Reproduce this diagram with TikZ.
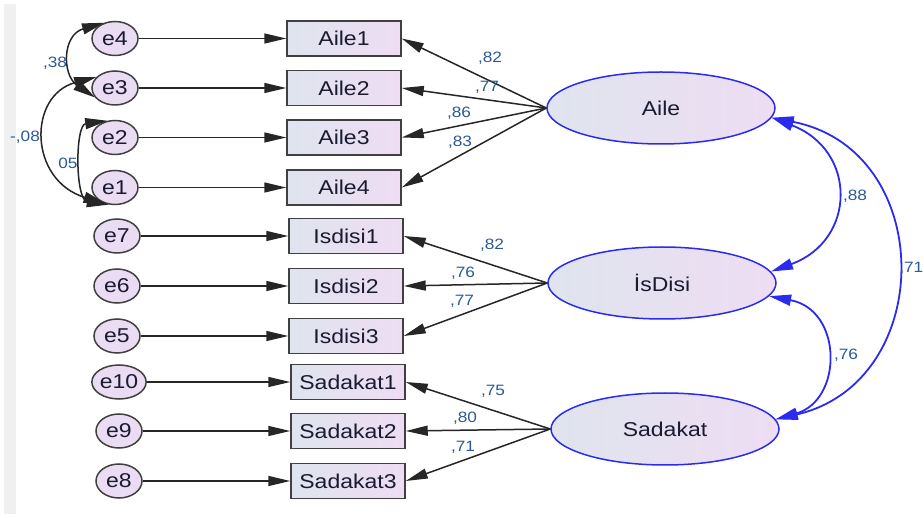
\documentclass[tikz,border=0pt]{standalone}
\usepackage{fontspec}
\setmainfont{Liberation Sans}[FakeStretch=1.15]
\usetikzlibrary{arrows.meta,shapes.geometric}
\definecolor{boxl}{HTML}{DFE4EE}
\definecolor{boxr}{HTML}{EEDDF3}
\definecolor{errfill}{HTML}{EADCF2}
\definecolor{latblue}{HTML}{2B2BF0}
\definecolor{numcol}{HTML}{2A5A96}
\definecolor{txtcol}{HTML}{1A1A30}
\begin{document}
\begin{tikzpicture}
[x=1pt, y=1pt, line width=1.5pt, font=\fontsize{20}{23}\selectfont,
obs/.style={rectangle, draw=black!75, left color=boxl, right color=boxr, inner sep=0pt, minimum width=114pt, minimum height=35pt, text=txtcol},
err/.style={ellipse, draw=black!75, fill=errfill, inner sep=0pt, minimum width=46pt, minimum height=34pt, text=txtcol},
lat/.style={ellipse, draw=latblue, left color=boxl, right color=boxr, inner sep=0pt, minimum width=228pt, minimum height=72pt, text=txtcol},
load/.style={-{Triangle[length=22pt,width=10pt]}, black!85},
cov/.style={{Triangle[length=22pt,width=11pt]}-{Triangle[length=22pt,width=11pt]}, black!85},
lcov/.style={{Triangle[length=22pt,width=11pt]}-{Triangle[length=22pt,width=11pt]}, latblue, line width=1.8pt},
num/.style={font=\fontsize{15}{18}\selectfont, text=numcol, inner sep=0pt}]

\useasboundingbox (0,0) rectangle (924,-518);
\fill[black!6] (4,-4) rectangle (16,-514);

% indicators
\node[obs] (aile1) at (344,-38.5) {Aile1};
\node[obs] (aile2) at (344,-88) {Aile2};
\node[obs] (aile3) at (344,-137.5) {Aile3};
\node[obs] (aile4) at (344,-187.5) {Aile4};
\node[obs] (isdisi1) at (346,-236) {Isdisi1};
\node[obs] (isdisi2) at (346,-286) {Isdisi2};
\node[obs] (isdisi3) at (346,-336) {Isdisi3};
\node[obs] (sadakat1) at (348,-382) {Sadakat1};
\node[obs] (sadakat2) at (348,-431) {Sadakat2};
\node[obs] (sadakat3) at (348,-481) {Sadakat3};

% errors
\node[err] (e4) at (115,-38.5) {e4};
\node[err] (e3) at (115,-88) {e3};
\node[err] (e2) at (115,-137.5) {e2};
\node[err] (e1) at (115,-187.5) {e1};
\node[err] (e7) at (117,-236) {e7};
\node[err] (e6) at (117,-286) {e6};
\node[err] (e5) at (117,-336) {e5};
\node[err] (e10) at (119,-382) {e10};
\node[err] (e9) at (119,-431) {e9};
\node[err] (e8) at (119,-481) {e8};

% latent
\node[lat] (Aile) at (661,-108) {Aile};
\node[lat] (IsDisi) at (662,-283) {İsDisi};
\node[lat] (Sadakat) at (665,-429) {Sadakat};

\foreach \e/\b in {e4/aile1, e3/aile2, e2/aile3, e1/aile4, e7/isdisi1, e6/isdisi2, e5/isdisi3, e10/sadakat1, e9/sadakat2, e8/sadakat3}
  \draw[load] (\e) -- (\b);

\foreach \i in {1,...,4}
  \draw[load] (Aile.west) -- (aile\i.east);
\foreach \i in {1,2,3} {
  \draw[load] (IsDisi.west) -- (isdisi\i.east);
  \draw[load] (Sadakat.west) -- (sadakat\i.east);
}

% loadings
\node[num] (la1) at (490,-58) {,82};
\node[num] (la2) at (487,-87) {,77};
\node[num] (la3) at (459,-113) {,86};
\node[num] (la4) at (460,-142) {,83};
\node[num] (li1) at (492,-245) {,82};
\node[num] (li2) at (463,-273) {,76};
\node[num] (li3) at (462,-301) {,77};
\node[num] (ls1) at (493,-391) {,75};
\node[num] (ls2) at (465,-418) {,80};
\node[num] (ls3) at (463,-447) {,71};

% error covariances
\draw[cov] (e4.125) .. controls (62,-35) and (62,-75) .. (e3.205);
\draw[cov] (e3.150) .. controls (28,-95) and (28,-180) .. (e1.240);
\draw[cov] (e2.115) .. controls (75,-125) and (75,-200) .. (e1.250);
\node[num] (c38) at (55,-63) {,38};
\node[num] (c08) at (25,-137) {-,08};
\node[num] (c05) at (68,-163) {05};

% latent covariances
\draw[lcov] (Aile.-5) .. controls (857,-150) and (857,-240) .. (IsDisi.6);
\draw[lcov] (IsDisi.-7) .. controls (843,-310) and (843,-400) .. (Sadakat.5);
\draw[lcov] (Aile.-5) .. controls (937,-150) and (937,-382) .. (Sadakat.5);
\node[num] (c88) at (855,-196) {,88};
\node[num] (c76) at (846,-355) {,76};
\node[num, anchor=east] (c71) at (924,-268) {,71};
\end{tikzpicture}
\end{document}
